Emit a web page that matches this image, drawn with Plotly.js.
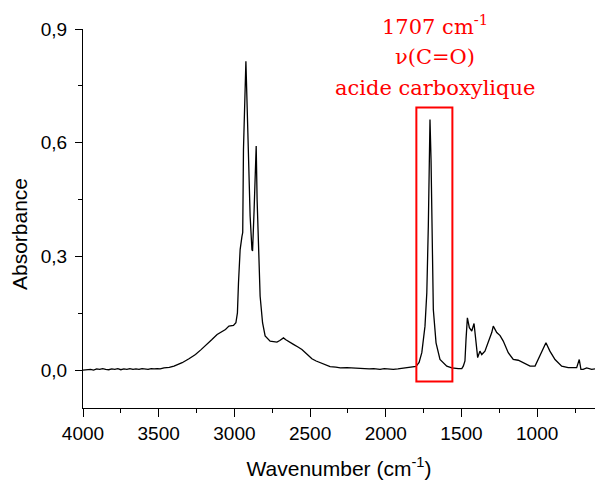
<!DOCTYPE html>
<html>
<head>
<meta charset="utf-8">
<script src="https://cdn.plot.ly/plotly-3.0.1.min.js"></script>
<style>html,body{margin:0;padding:0;background:#fff;}#chart{width:595px;height:482px;}</style>
</head>
<body>
<div id="chart"></div>
<script>
// Wavenumbers (cm-1)
const wavenumber = [
  4000,3975,3950,3930,3910,3890,3870,3850,3830,3810,3790,3770,3750,3730,3710,3690,3670,3650,3630,3610,
  3590,3570,3550,3530,3510,3490,3465,3430,3399,3370,3345,3300,3257,3220,3180,3150,3114,3085,3059,3036,
  3006,2990,2980,2973,2962,2950,2945,2940,2930,2924,2911,2896,2884,2880,2870,2862,2856,2850,2841,2830,
  2814,2797,2764,2740,2719,2700,2676,2660,2643,2610,2580,2554,2520,2488,2460,2434,2400,2368,2330,2300,
  2257,2220,2180,2148,2110,2080,2038,2010,1980,1950,1920,1890,1861,1840,1800,1780,1762,1741,1729,1719,
  1712,1708,1701,1694,1686,1668,1642,1597,1564,1521,1498,1488,1477,1470,1461,1448,1432,1417,1404,1393,
  1378,1366,1345,1323,1300,1290,1267,1245,1224,1191,1158,1125,1102,1047,1014,993,964,942,916,882,
  838,795,739,722,711,696,673,655,640,618
];
// Absorbance values
const absorbance = [
  0.000,0.001,0.002,0.000,0.003,0.002,0.004,0.002,0.001,0.003,0.002,0.004,0.001,0.003,0.002,0.004,0.002,0.003,0.002,0.004,
  0.003,0.002,0.004,0.003,0.004,0.003,0.006,0.007,0.0105,0.015,0.0195,0.030,0.041,0.054,0.068,0.080,0.094,0.101,0.107,0.116,
  0.118,0.125,0.151,0.230,0.318,0.353,0.363,0.582,0.758,0.815,0.626,0.406,0.318,0.314,0.420,0.550,0.591,0.450,0.318,0.195,
  0.125,0.090,0.0765,0.075,0.074,0.078,0.085,0.080,0.0765,0.068,0.061,0.0546,0.042,0.030,0.024,0.0195,0.013,0.009,0.008,0.006,
  0.0063,0.005,0.004,0.0037,0.003,0.004,0.002,0.004,0.002,0.002,0.003,0.005,0.0063,0.008,0.010,0.020,0.046,0.116,0.204,0.380,
  0.555,0.661,0.555,0.336,0.160,0.072,0.028,0.0105,0.006,0.0037,0.0037,0.0105,0.024,0.081,0.138,0.112,0.103,0.123,0.081,0.033,
  0.050,0.041,0.050,0.072,0.099,0.116,0.099,0.091,0.0765,0.046,0.028,0.026,0.021,0.0105,0.0105,0.028,0.0546,0.072,0.050,0.028,
  0.0105,0.0063,0.0063,0.028,0.002,0.002,0.006,0.003,0.002,0.003
];
// Highlight box around the C=O band
const boxWavenumbers = [1798, 1560];
const boxAbsorbance = [-0.030, 0.693];
const annotationLines = ["1707 cm<sup>-1</sup>", "ν(C=O)", "acide carboxylique"];
const annotationY = [1.0106, 0.926, 0.844];

const tickFont = {family: "Liberation Sans, Arial, sans-serif", size: 19, color: "#000"};
const titleFont = {family: "Liberation Sans, Arial, sans-serif", size: 21, color: "#000"};
const redFont = {family: "DejaVu Serif, serif", size: 21, color: "#ff0000"};

const trace = {
  x: wavenumber, y: absorbance, type: "scatter", mode: "lines",
  line: {color: "#000", width: 1.3}, hoverinfo: "skip"
};

const annotations = annotationLines.map((t, i) => ({
  text: t, xref: "x", yref: "paper", x: 1675, y: annotationY[i],
  showarrow: false, font: redFont, xanchor: "center", yanchor: "middle"
}));
annotations.push({
  text: "Absorbance", xref: "paper", yref: "paper", x: -0.125, y: 0.459,
  textangle: -90, showarrow: false, font: titleFont, xanchor: "center", yanchor: "middle"
});

const layout = {
  width: 595, height: 482,
  margin: {l: 83, r: 0, t: 29, b: 74},
  paper_bgcolor: "#fff", plot_bgcolor: "#fff",
  separators: ", ",
  showlegend: false,
  xaxis: {
    range: [4000, 618], showgrid: false, zeroline: false,
    showline: true, linecolor: "#000", linewidth: 1,
    ticks: "outside", ticklen: 8, tickwidth: 1, tickcolor: "#000",
    dtick: 500, tick0: 0, tickfont: tickFont,
    minor: {dtick: 250, ticks: "outside", ticklen: 4, tickwidth: 1, tickcolor: "#000", showgrid: false},
    title: {text: "Wavenumber (cm<sup>-1</sup>)", font: titleFont, standoff: 18}
  },
  yaxis: {
    range: [-0.1, 0.9], showgrid: false, zeroline: false,
    showline: true, linecolor: "#000", linewidth: 1,
    ticks: "outside", ticklen: 7, tickwidth: 1, tickcolor: "#000",
    dtick: 0.3, tick0: 0, tickformat: ".1f", tickfont: tickFont,
    ticklabelstandoff: 4,
    minor: {dtick: 0.15, ticks: "outside", ticklen: 4, tickwidth: 1, tickcolor: "#000", showgrid: false}
  },
  shapes: [{
    type: "rect", xref: "x", yref: "y",
    x0: boxWavenumbers[0], x1: boxWavenumbers[1], y0: boxAbsorbance[0], y1: boxAbsorbance[1],
    line: {color: "#ff0000", width: 2}, fillcolor: "rgba(0,0,0,0)"
  }],
  annotations: annotations
};

Plotly.newPlot("chart", [trace], layout, {staticPlot: true, displayModeBar: false});
</script>
</body>
</html>
